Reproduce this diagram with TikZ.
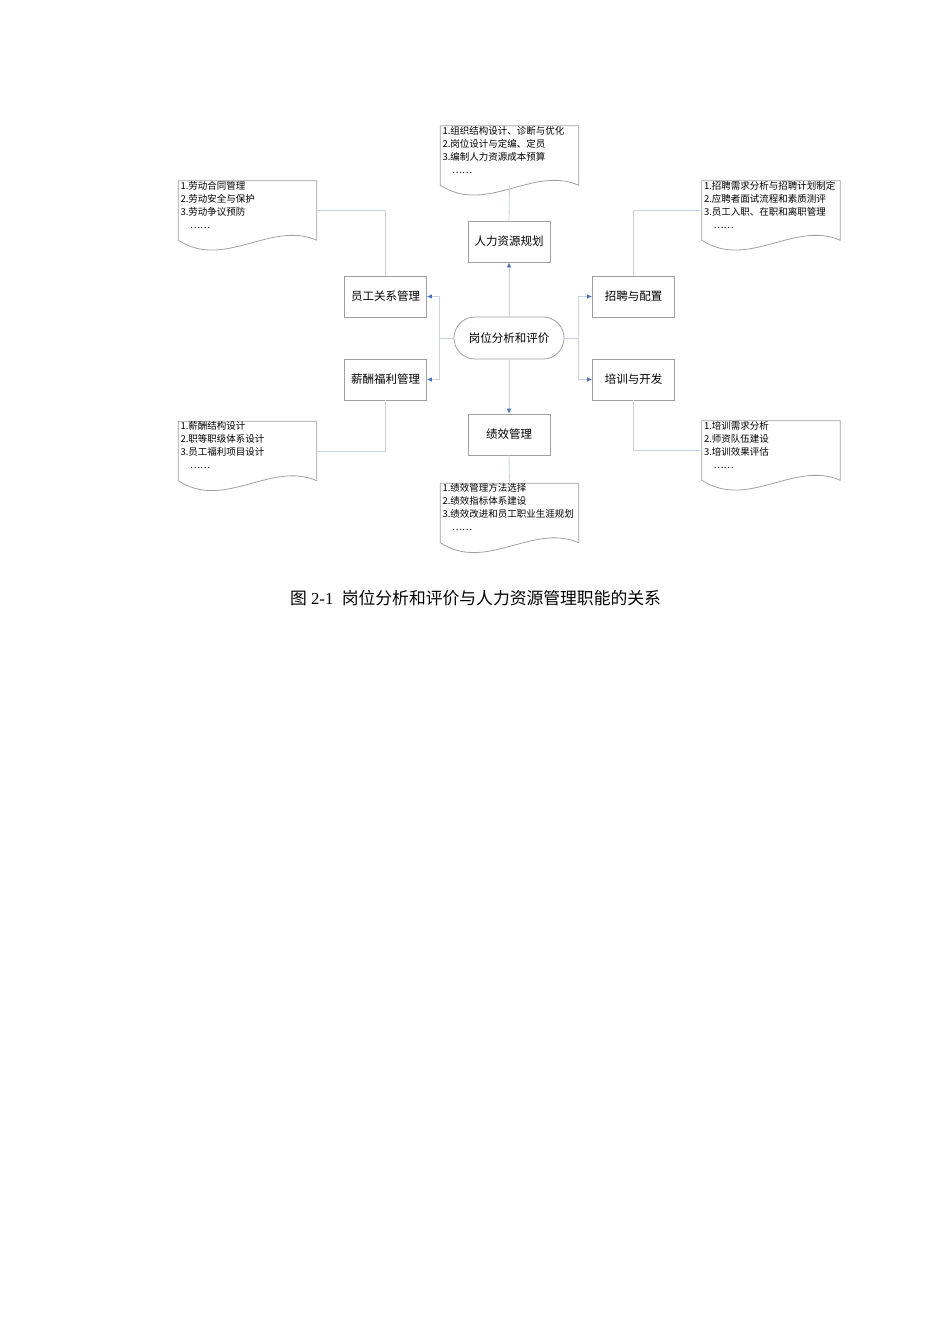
\documentclass[tikz,border=0pt]{standalone}
\usepackage{fontspec}
\setmainfont{Liberation Serif}
\newfontfamily\cjk{Noto Sans CJK SC}
\usetikzlibrary{arrows.meta}
\definecolor{gris}{HTML}{A0A0A0}
\definecolor{bleuclair}{HTML}{C8D2E2}
\definecolor{bleu}{HTML}{4472C4}
\newcommand{\bordfeuille}[1]{\draw[gris, line width=0.8pt] (#1.south west) .. controls +(46,30) and +(-46,-20) .. (#1.south east) -- (#1.north east) -- (#1.north west) -- cycle;}

\begin{document}
\begin{tikzpicture}[x=1pt, y=-1pt]
\tikzset{boite/.style={draw=gris, line width=0.8pt, minimum width=82pt, minimum height=41pt, inner sep=0pt, font=\cjk\fontsize{11.5}{14}\selectfont},
centre/.style={boite, minimum width=110pt, minimum height=42pt, rounded corners=21pt},
doc/.style={minimum width=138pt, minimum height=59pt, inner sep=0pt},
liste/.style={anchor=north west, inner sep=0pt, xshift=2pt, align=left, font=\cjk\fontsize{9.5}{13}\selectfont},
lien/.style={draw=bleuclair, line width=0.8pt},
fleche/.style={lien, -{Latex[length=5pt, width=4.5pt, color=bleu]}}}
\useasboundingbox (0,0) rectangle (950,1344);
\node[centre] (C) at (509,338) {岗位分析和评价};
\node[boite] (B1) at (509,241.5) {人力资源规划};
\node[boite] (B2) at (633.5,296.5) {招聘与配置};
\node[boite] (B3) at (633.5,379.5) {培训与开发};
\node[boite] (B4) at (509,434.5) {绩效管理};
\node[boite] (B5) at (385.5,379.5) {薪酬福利管理};
\node[boite] (B6) at (385.5,296.5) {员工关系管理};
\node[doc] (D1) at (509.5,155.5) {};
\node[doc] (D2) at (771,210.5) {};
\node[doc] (D3) at (771,450.5) {};
\node[doc] (D4) at (509.5,513) {};
\node[doc] (D5) at (247.5,451) {};
\node[doc] (D6) at (247.5,210.5) {};
\bordfeuille{D1}
\bordfeuille{D2}
\bordfeuille{D3}
\bordfeuille{D4}
\bordfeuille{D5}
\bordfeuille{D6}
\node[liste] at (D1.north west) {1.组织结构设计、诊断与优化\\2.岗位设计与定编、定员\\3.编制人力资源成本预算\\\hspace*{9.5pt}……};
\node[liste] at (D2.north west) {1.招聘需求分析与招聘计划制定\\2.应聘者面试流程和素质测评\\3.员工入职、在职和离职管理\\\hspace*{9.5pt}……};
\node[liste] at (D3.north west) {1.培训需求分析\\2.师资队伍建设\\3.培训效果评估\\\hspace*{9.5pt}……};
\node[liste] at (D4.north west) {1.绩效管理方法选择\\2.绩效指标体系建设\\3.绩效改进和员工职业生涯规划\\\hspace*{9.5pt}……};
\node[liste] at (D5.north west) {1.薪酬结构设计\\2.职等职级体系设计\\3.员工福利项目设计\\\hspace*{9.5pt}……};
\node[liste] at (D6.north west) {1.劳动合同管理\\2.劳动安全与保护\\3.劳动争议预防\\\hspace*{9.5pt}……};
\draw[fleche] (C.north) -- (B1.south);
\draw[fleche] (C.south) -- (B4.north);
\draw[fleche] (C.east) -- ++(14,0) |- (B2.west);
\draw[fleche] (C.east) -- ++(14,0) |- (B3.west);
\draw[fleche] (C.west) -- ++(-14,0) |- (B6.east);
\draw[fleche] (C.west) -- ++(-14,0) |- (B5.east);
\draw[lien] (D1.south) -- (B1.north);
\draw[lien] (D2.west) -| (B2.north);
\draw[lien] (B3.south) |- (D3.west);
\draw[lien] (B4.south) -- (D4.north);
\draw[lien] (B5.south) |- (D5.east);
\draw[lien] (D6.east) -| (B6.north);
\node[font=\fontsize{16.8}{20}\selectfont] (titre) at (475.5,598) {{\cjk 图} 2-1\ \ {\cjk 岗位分析和评价与人力资源管理职能的关系}};
\end{tikzpicture}
\end{document}
